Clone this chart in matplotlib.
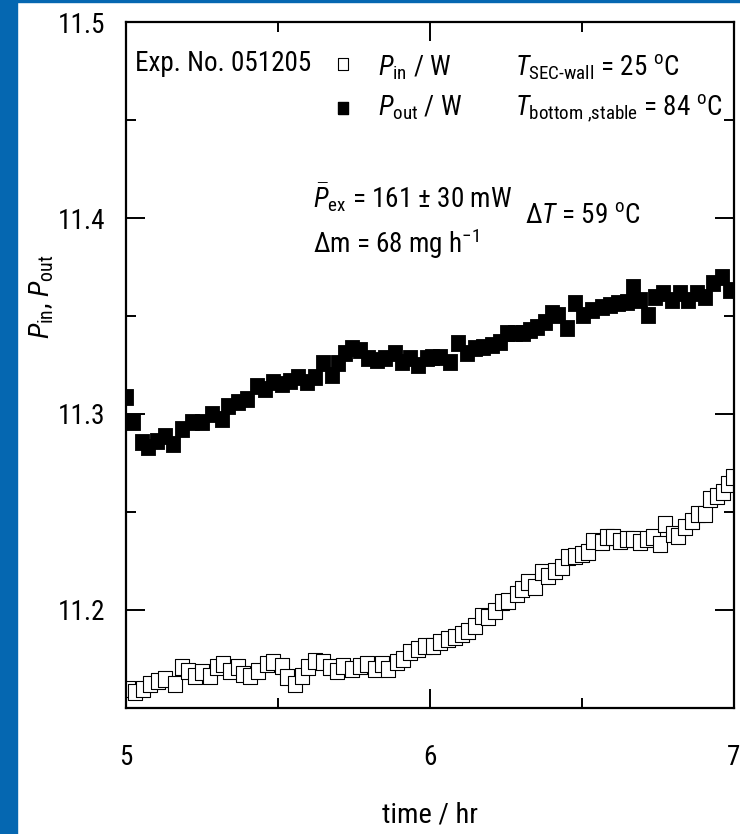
import matplotlib
matplotlib.use("Agg")
import matplotlib.pyplot as plt
from matplotlib import font_manager
from matplotlib.patches import Rectangle
from matplotlib.ticker import MultipleLocator

# the slide text is a condensed Arial-like face; use a narrow one if there is any
names = {f.name for f in font_manager.fontManager.ttflist}
face, fs = 'Liberation Sans', 17
for cand, size in [('Liberation Sans Narrow', 21), ('Arial Narrow', 21),
                   ('Roboto Condensed', 19.5)]:
    if cand in names:
        face, fs = cand, size
        break

plt.rcParams['font.family'] = [face, 'DejaVu Sans']
plt.rcParams['mathtext.fontset'] = 'custom'
plt.rcParams['mathtext.rm'] = face
plt.rcParams['mathtext.it'] = face + ':italic'
plt.rcParams['mathtext.bf'] = face + ':bold'

# P_out / W  (filled squares)
t_out = [5.000, 5.023, 5.053, 5.072, 5.102, 5.128, 5.155, 5.184, 5.217, 5.250,
         5.283, 5.316, 5.336, 5.368, 5.398, 5.431, 5.457, 5.484, 5.513, 5.539,
         5.566, 5.595, 5.622, 5.648, 5.678, 5.697, 5.720, 5.743, 5.770, 5.796,
         5.826, 5.852, 5.885, 5.908, 5.934, 5.961, 5.990, 6.007, 6.033, 6.066,
         6.092, 6.122, 6.148, 6.174, 6.204, 6.230, 6.253, 6.280, 6.306, 6.329,
         6.352, 6.378, 6.401, 6.421, 6.451, 6.477, 6.503, 6.533, 6.566, 6.592,
         6.618, 6.648, 6.668, 6.691, 6.717, 6.740, 6.766, 6.796, 6.822, 6.849,
         6.878, 6.905, 6.931, 6.961, 6.987]
p_out = [11.3085, 11.2958, 11.2855, 11.2830, 11.2861, 11.2886, 11.2845, 11.2922, 11.2958, 11.2958,
         11.2998, 11.2973, 11.3039, 11.3059, 11.3074, 11.3141, 11.3125, 11.3161, 11.3151, 11.3166,
         11.3187, 11.3161, 11.3191, 11.3262, 11.3201, 11.3262, 11.3313, 11.3339, 11.3329, 11.3288,
         11.3278, 11.3288, 11.3313, 11.3267, 11.3288, 11.3252, 11.3288, 11.3293, 11.3293, 11.3267,
         11.3364, 11.3313, 11.3339, 11.3344, 11.3354, 11.3369, 11.3415, 11.3415, 11.3415, 11.3430,
         11.3446, 11.3471, 11.3517, 11.3507, 11.3441, 11.3568, 11.3507, 11.3532, 11.3547, 11.3558,
         11.3568, 11.3573, 11.3649, 11.3583, 11.3507, 11.3598, 11.3619, 11.3583, 11.3619, 11.3583,
         11.3619, 11.3598, 11.3670, 11.3700, 11.3634]

# P_in / W  (open squares)
t_in = [5.007, 5.030, 5.056, 5.079, 5.105, 5.128, 5.161, 5.184, 5.204, 5.227,
        5.250, 5.276, 5.299, 5.319, 5.342, 5.368, 5.385, 5.408, 5.434, 5.464,
        5.484, 5.513, 5.530, 5.556, 5.579, 5.599, 5.622, 5.648, 5.671, 5.694,
        5.714, 5.743, 5.770, 5.793, 5.819, 5.842, 5.862, 5.891, 5.911, 5.934,
        5.961, 5.984, 6.010, 6.033, 6.059, 6.082, 6.105, 6.125, 6.148, 6.171,
        6.191, 6.214, 6.237, 6.257, 6.286, 6.303, 6.322, 6.345, 6.368, 6.388,
        6.411, 6.434, 6.454, 6.477, 6.500, 6.520, 6.536, 6.566, 6.582, 6.602,
        6.625, 6.648, 6.668, 6.691, 6.714, 6.734, 6.757, 6.773, 6.799, 6.816,
        6.839, 6.862, 6.882, 6.905, 6.921, 6.944, 6.964, 6.980, 6.997]
p_in = [11.1598, 11.1583, 11.1598, 11.1623, 11.1639, 11.1649, 11.1623, 11.1710, 11.1690, 11.1664,
        11.1684, 11.1664, 11.1710, 11.1725, 11.1690, 11.1710, 11.1674, 11.1664, 11.1690, 11.1725,
        11.1735, 11.1715, 11.1659, 11.1623, 11.1664, 11.1710, 11.1740, 11.1735, 11.1710, 11.1690,
        11.1715, 11.1700, 11.1715, 11.1725, 11.1700, 11.1725, 11.1700, 11.1735, 11.1751, 11.1786,
        11.1801, 11.1817, 11.1817, 11.1837, 11.1852, 11.1863, 11.1878, 11.1893, 11.1919, 11.1969,
        11.1964, 11.1995, 11.2041, 11.2046, 11.2081, 11.2107, 11.2143, 11.2117, 11.2193, 11.2173,
        11.2199, 11.2219, 11.2270, 11.2275, 11.2285, 11.2295, 11.2351, 11.2346, 11.2372, 11.2372,
        11.2351, 11.2361, 11.2361, 11.2346, 11.2361, 11.2372, 11.2336, 11.2438, 11.2387, 11.2377,
        11.2422, 11.2453, 11.2489, 11.2489, 11.2565, 11.2580, 11.2601, 11.2641, 11.2677]

# squares in the original are a bit taller than wide (slide was stretched)
box = [(-0.4, -0.5), (0.4, -0.5), (0.4, 0.5), (-0.4, 0.5), (-0.4, -0.5)]

fig = plt.figure(figsize=(7.4, 8.34), dpi=100)
ax = fig.add_axes([0.1703, 0.1511, 0.8216, 0.8225])

# blue frame of the slide
fig.patches.append(Rectangle((0, 0), 17 / 740, 1, transform=fig.transFigure,
                             color='#0567b1', zorder=0))
fig.patches.append(Rectangle((0, 1 - 2 / 834), 1, 2 / 834, transform=fig.transFigure,
                             color='#0567b1', zorder=0))

ax.plot(t_out, p_out, ls='none', marker=box, ms=12, mfc='black', mec='black', mew=0.6)
ax.plot(t_in, p_in, ls='none', marker=box, ms=12, mfc='white', mec='black', mew=0.8)

ax.set_xlim(5, 7)
ax.set_ylim(11.15, 11.5)
ax.xaxis.set_major_locator(MultipleLocator(1))
ax.xaxis.set_minor_locator(MultipleLocator(0.5))
ax.yaxis.set_minor_locator(MultipleLocator(0.05))
ax.set_yticks([11.2, 11.3, 11.4, 11.5])
ax.set_yticklabels(['11.2', '11.3', '11.4', '11.5'])

ax.tick_params(which='both', direction='in', top=True, right=True, width=1.4, labelsize=fs)
ax.tick_params(which='major', length=14)
ax.tick_params(which='minor', length=7)
ax.tick_params(axis='x', pad=26)
ax.tick_params(axis='y', pad=15)
for s in ax.spines.values():
    s.set_linewidth(1.6)

fig.text(430 / 740, 1 - 815 / 834, 'time / hr', fontsize=fs + 1, ha='center', va='center')
fig.text(42 / 740, 1 - 297 / 834, r'$P_{\rm in}$, $P_{\rm out}$', fontsize=fs + 1,
         rotation=90, ha='center', va='center')

# annotations
ax.text(0.0148, 0.9286, 'Exp. No. 051205', transform=ax.transAxes, fontsize=fs, va='baseline')
ax.plot([0.357], [0.9388], transform=ax.transAxes, ls='none', marker=box, ms=9,
        mfc='white', mec='black', mew=0.8, clip_on=False)
ax.plot([0.357], [0.8746], transform=ax.transAxes, ls='none', marker=box, ms=9,
        mfc='black', mec='black', clip_on=False)
ax.text(0.4145, 0.9227, r'$P_{\rm in}$ / W', transform=ax.transAxes, fontsize=fs, va='baseline')
ax.text(0.4145, 0.8644, r'$P_{\rm out}$ / W', transform=ax.transAxes, fontsize=fs, va='baseline')
ax.text(0.6398, 0.9227, r'$T_{\text{SEC-wall}}$ = 25 $^{\rm o}$C', transform=ax.transAxes,
        fontsize=fs, va='baseline')
ax.text(0.6398, 0.8644, r'$T_{\text{bottom ,stable}}$ = 84 $^{\rm o}$C', transform=ax.transAxes,
        fontsize=fs, va='baseline')
ax.text(0.3076, 0.7289, r'$\bar{P}_{\rm ex}$ = 161 ± 30 mW', transform=ax.transAxes,
        fontsize=fs, va='baseline')
ax.text(0.6563, 0.7070, r'$\Delta T$ = 59 $^{\rm o}$C', transform=ax.transAxes,
        fontsize=fs, va='baseline')
ax.text(0.3076, 0.6633, r'$\Delta$m = 68 mg h$^{-1}$', transform=ax.transAxes,
        fontsize=fs, va='baseline')

fig.savefig('out.png', dpi=100)
